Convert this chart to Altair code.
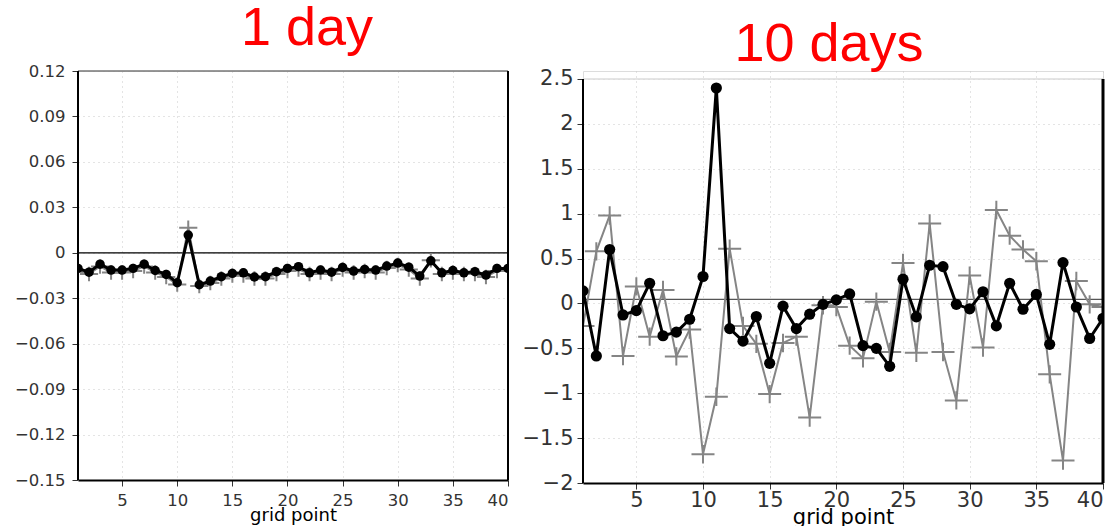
import altair as alt
import pandas as pd

# ---------------- data ----------------
grid_points = list(range(1, 41))

day1_model = [-0.0103, -0.0128, -0.0075, -0.0114, -0.0114, -0.0103, -0.0075, -0.0117, -0.0143, -0.0198,
              0.0117, -0.0211, -0.0187, -0.0158, -0.0136, -0.0132, -0.0160, -0.0158, -0.0125, -0.0103,
              -0.0092, -0.0132, -0.0114, -0.0128, -0.0097, -0.0121, -0.0110, -0.0114, -0.0088, -0.0068,
              -0.0095, -0.0154, -0.0053, -0.0132, -0.0117, -0.0132, -0.0125, -0.0147, -0.0103, -0.0103]
day1_ref = [-0.0120, -0.0140, -0.0090, -0.0130, -0.0130, -0.0120, -0.0090, -0.0130, -0.0160, -0.0210,
            0.0165, -0.0220, -0.0200, -0.0170, -0.0150, -0.0150, -0.0170, -0.0170, -0.0140, -0.0120,
            -0.0110, -0.0140, -0.0130, -0.0140, -0.0110, -0.0130, -0.0120, -0.0130, -0.0100, -0.0080,
            -0.0110, -0.0170, -0.0050, -0.0140, -0.0130, -0.0140, -0.0140, -0.0160, -0.0120, -0.0110]

day10_model = [0.14, -0.585, 0.60, -0.128, -0.08, 0.225, -0.36, -0.32, -0.176, 0.30,
               2.40, -0.28, -0.42, -0.146, -0.667, -0.03, -0.28, -0.12, -0.01, 0.04,
               0.106, -0.47, -0.50, -0.70, 0.27, -0.15, 0.425, 0.41, -0.01, -0.06,
               0.13, -0.25, 0.225, -0.065, 0.10, -0.455, 0.455, -0.04, -0.39, -0.165]
day10_ref = [-0.25, 0.58, 0.98, -0.585, 0.19, -0.37, 0.15, -0.59, -0.29, -1.68,
             -1.04, 0.61, -0.25, -0.45, -1.01, -0.44, -0.37, -1.27, -0.02, -0.04,
             -0.47, -0.61, 0.02, -0.54, 0.45, -0.55, 0.89, -0.54, -1.08, 0.31,
             -0.49, 1.04, 0.755, 0.60, 0.47, -0.79, -1.75, 0.25, -0.01, -0.04]

x_ticks = [5, 10, 15, 20, 25, 30, 35, 40]
day1_y_ticks = [-0.15, -0.12, -0.09, -0.06, -0.03, 0, 0.03, 0.06, 0.09, 0.12]
day10_y_ticks = [-2, -1.5, -1, -0.5, 0, 0.5, 1, 1.5, 2, 2.5]
day1_frame = [-0.15, 0.12]
day10_frame = [-2, 2.5]
day1_scale_top = 0.12
day10_scale_top = 2.589
day1_zero = 0.0
day10_zero = 0.045

FONT = "DejaVu Sans"
PLUS = "M-1,0L1,0M0,-0.8L0,0.8"


def panel(model, ref, frame, scale_top, yticks, zero, title, title_offset, title_dx, width, height,
          label_size, title_size, x_label_pad, x_title_pad, y_extent, y_label_expr, y_pad,
          dot_size, plus_size, top_color, right_width, zero_color):
    df = pd.DataFrame({"x": grid_points, "model": model, "ref": ref})
    xs = alt.Scale(domain=[1, 40], nice=False, zero=False)
    ys = alt.Scale(domain=[frame[0], scale_top], nice=False, zero=False)
    xaxis = alt.Axis(values=x_ticks, title="grid point", grid=True, gridDash=[1, 4],
                     gridColor="#c8c8c8", domainColor="black", domainWidth=2,
                     tickColor="#333333", tickSize=6, labelFont=FONT, labelFontSize=label_size,
                     labelColor="#333333", labelPadding=x_label_pad, titleFont=FONT,
                     titleFontSize=title_size, titleFontWeight="normal", titleColor="black",
                     titlePadding=x_title_pad)
    yaxis = alt.Axis(values=yticks, title=None, grid=True, gridDash=[1, 4],
                     gridColor="#c8c8c8", domain=False,
                     tickColor="#333333", tickSize=6, labelFont=FONT, labelFontSize=label_size,
                     labelColor="#333333", labelPadding=y_pad, labelExpr=y_label_expr,
                     minExtent=y_extent, maxExtent=y_extent)
    base = alt.Chart(df)
    ref_line = base.mark_line(color="#858585", strokeWidth=2, clip=True).encode(
        x=alt.X("x:Q", scale=xs, axis=xaxis),
        y=alt.Y("ref:Q", scale=ys, axis=yaxis),
    )
    ref_pts = base.mark_point(shape=PLUS, filled=False, color="#858585", size=plus_size,
                              strokeWidth=2, opacity=1, clip=True).encode(
        x=alt.X("x:Q", axis=xaxis), y=alt.Y("ref:Q", axis=yaxis))
    model_line = base.mark_line(color="black", strokeWidth=3, clip=True).encode(
        x=alt.X("x:Q", axis=xaxis), y=alt.Y("model:Q", axis=yaxis))
    model_pts = base.mark_circle(color="black", size=dot_size, opacity=1, clip=True).encode(
        x=alt.X("x:Q", axis=xaxis), y=alt.Y("model:Q", axis=yaxis))

    frame_df = pd.DataFrame({"x1": [1], "x2": [40], "y1": [frame[0]], "y2": [frame[1]], "z": [zero]})
    fb = alt.Chart(frame_df)
    zero_rule = fb.mark_rule(color=zero_color, strokeWidth=1.2).encode(
        x=alt.X("x1:Q", axis=xaxis), x2="x2:Q", y=alt.Y("z:Q", axis=yaxis))
    top_rule = fb.mark_rule(color=top_color, strokeWidth=1.5).encode(
        x=alt.X("x1:Q", axis=xaxis), x2="x2:Q", y=alt.Y("y2:Q", axis=yaxis))
    left_rule = fb.mark_rule(color="black", strokeWidth=2).encode(
        x=alt.X("x1:Q", axis=xaxis), y=alt.Y("y1:Q", axis=yaxis), y2="y2:Q")
    right_rule = fb.mark_rule(color="black", strokeWidth=right_width).encode(
        x=alt.X("x2:Q", axis=xaxis), y=alt.Y("y1:Q", axis=yaxis), y2="y2:Q")

    return alt.layer(zero_rule, ref_line, ref_pts, model_line, model_pts,
                     top_rule, left_rule, right_rule).properties(
        width=width, height=height,
        title=alt.TitleParams(title, font="Liberation Sans", fontSize=54, fontWeight="normal",
                              color="#ff0000", anchor="middle", offset=title_offset, dx=title_dx),
    )


left = panel(day1_model, day1_ref, day1_frame, day1_scale_top, day1_y_ticks, day1_zero, "1 day", 7, 14,
             430, 409, 16.5, 18, 6, -2, 77, "datum.value == 0 ? '0' : format(datum.value, '.2f')", 7,
             90, 330, "#777777", 2, "black")
right = panel(day10_model, day10_ref, day10_frame, day10_scale_top, day10_y_ticks, day10_zero, "10 days", -4, -14,
              520, 412, 21, 21, 0, -4, 60, "format(datum.value, '~g')", 4,
              125, 530, "#dddddd", 3, "#555555")

chart = alt.hconcat(left, right, spacing=11).properties(
    padding={"left": 0, "top": 1, "right": 0, "bottom": 0}
).configure_view(stroke=None).configure(background="white")

chart.save("out.html", embed_options={"renderer": "svg", "actions": False})
